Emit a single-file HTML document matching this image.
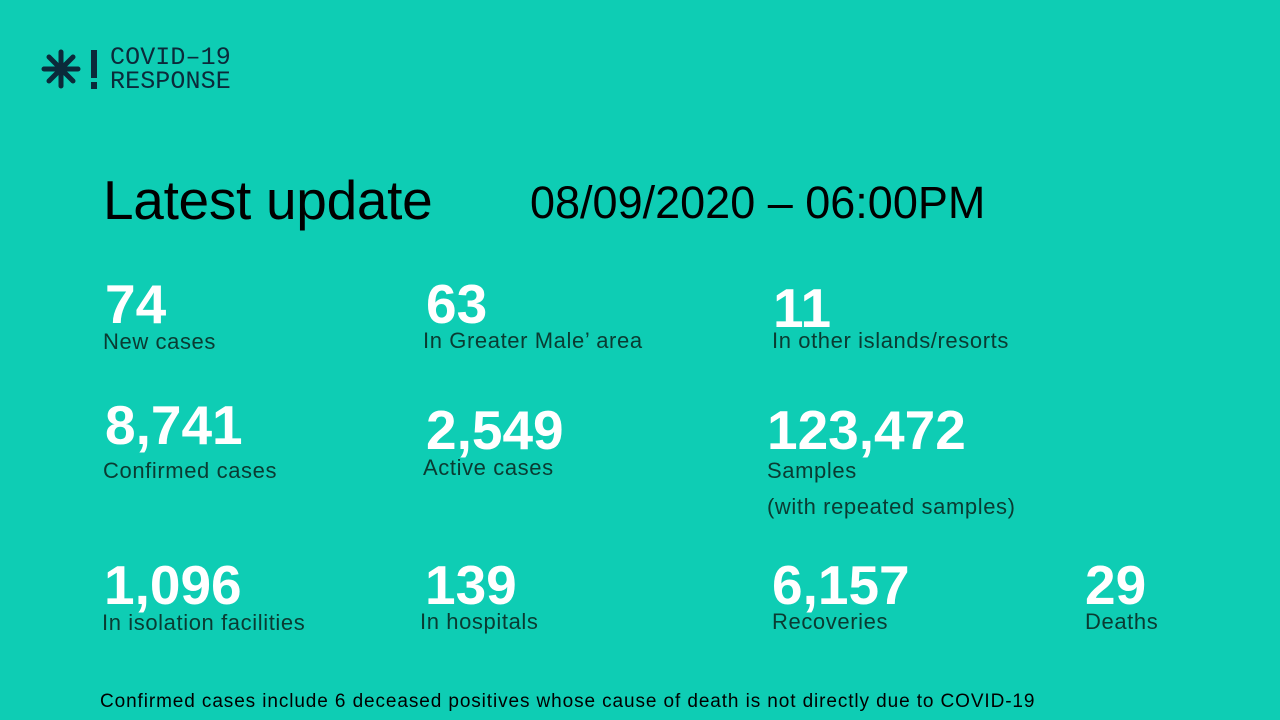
<!DOCTYPE html>
<html><head><meta charset="utf-8"><style>
body{margin:0;width:1280px;height:720px;background:#0ecdb4;overflow:hidden;position:relative;font-family:"Liberation Sans",sans-serif}
.a{position:absolute;white-space:nowrap;line-height:1}
.n{font-weight:bold;color:#fff;font-size:55px}
.l{color:#0a3b32;font-size:22px;letter-spacing:0.6px}
</style></head><body>
<svg class="a" style="left:40px;top:46px" width="62" height="46" viewBox="0 0 62 46">
<g stroke="#0b2a3a" stroke-width="5" stroke-linecap="round" fill="none">
<line x1="21" y1="6" x2="21" y2="40"/><line x1="4" y1="23" x2="38" y2="23"/>
<line x1="9" y1="11" x2="33" y2="35"/><line x1="33" y1="11" x2="9" y2="35"/>
</g>
<rect x="51" y="4" width="6" height="28" fill="#0b2a3a"/><rect x="51" y="36" width="6" height="7" fill="#0b2a3a"/>
</svg>
<div class="a" style="left:110px;top:46px;font-family:'Liberation Mono',monospace;font-size:25px;color:#0b2a3a;line-height:24px;letter-spacing:0.1px">COVID–19<br>RESPONSE</div>
<div class="a" style="left:103px;top:173px;font-size:55px;color:#000;letter-spacing:-0.3px">Latest update</div>
<div class="a" style="left:530px;top:180px;font-size:45px;color:#000">08/09/2020 – 06:00PM</div>

<div class="a n" style="left:105px;top:277px">74</div>
<div class="a l" style="left:103px;top:331px">New cases</div>
<div class="a n" style="left:426px;top:277px">63</div>
<div class="a l" style="left:423px;top:330px">In Greater Male’ area</div>
<div class="a n" style="left:773px;top:281px">11</div>
<div class="a l" style="left:772px;top:330px">In other islands/resorts</div>

<div class="a n" style="left:105px;top:398px">8,741</div>
<div class="a l" style="left:103px;top:460px">Confirmed cases</div>
<div class="a n" style="left:426px;top:403px">2,549</div>
<div class="a l" style="left:423px;top:457px">Active cases</div>
<div class="a n" style="left:767px;top:403px">123,472</div>
<div class="a l" style="left:767px;top:460px">Samples</div>
<div class="a l" style="left:767px;top:496px">(with repeated samples)</div>

<div class="a n" style="left:104px;top:558px">1,096</div>
<div class="a l" style="left:102px;top:612px">In isolation facilities</div>
<div class="a n" style="left:425px;top:558px">139</div>
<div class="a l" style="left:420px;top:611px">In hospitals</div>
<div class="a n" style="left:772px;top:558px">6,157</div>
<div class="a l" style="left:772px;top:611px">Recoveries</div>
<div class="a n" style="left:1085px;top:558px">29</div>
<div class="a l" style="left:1085px;top:611px">Deaths</div>

<div class="a" style="left:100px;top:692px;font-size:19px;color:#000;letter-spacing:0.9px">Confirmed cases include 6 deceased positives whose cause of death is not directly due to COVID-19</div>
</body></html>
